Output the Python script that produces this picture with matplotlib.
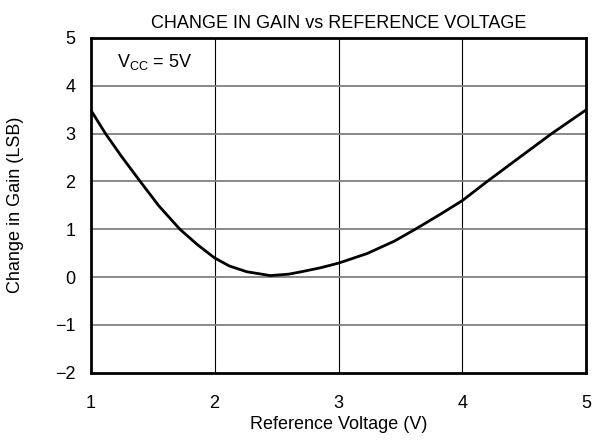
import matplotlib.pyplot as plt

plt.rcParams['font.family'] = ['Liberation Sans', 'DejaVu Sans']

# values
ref_voltage = [1.0, 1.12, 1.25, 1.4, 1.55, 1.72, 1.86, 2.0, 2.12, 2.26, 2.45,
               2.6, 2.7, 2.85, 3.0, 3.23, 3.45, 3.62, 3.82, 4.0, 4.14, 4.2,
               4.47, 4.72, 5.0]
gain_change = [3.5, 3.0, 2.52, 2.0, 1.49, 1.0, 0.68, 0.4, 0.23, 0.11, 0.03,
               0.06, 0.11, 0.19, 0.29, 0.49, 0.75, 1.0, 1.31, 1.6, 1.88, 2.0,
               2.52, 3.0, 3.5]

x_ticks = [1, 2, 3, 4, 5]
y_ticks = [-2, -1, 0, 1, 2, 3, 4, 5]

fig = plt.figure(figsize=(5.92, 4.41), dpi=100)
ax = fig.add_axes([0.153, 0.155, 0.8376, 0.759])

ax.plot(ref_voltage, gain_change, color='black', lw=2, solid_capstyle='round')

for x in x_ticks[1:-1]:
    ax.axvline(x, color='black', lw=0.8, zorder=0)
for y in y_ticks[1:-1]:
    ax.axhline(y, color='#808080', lw=1.3, zorder=0)

ax.set_xlim(1, 5)
ax.set_ylim(-2, 5)
ax.set_xticks(x_ticks)
ax.set_yticks(y_ticks)
ax.tick_params(length=0, labelsize=13)
ax.tick_params(axis='x', pad=16)
ax.tick_params(axis='y', pad=11)
for s in ax.spines.values():
    s.set_linewidth(2)

ax.text(1.52, 4.5, r'V$_\mathregular{CC}$ = 5V', ha='center', va='center', fontsize=13)

ax.set_title('CHANGE IN GAIN vs REFERENCE VOLTAGE', fontsize=13, pad=7)
ax.set_xlabel('Reference Voltage (V)', fontsize=13, labelpad=3)
ax.set_ylabel('Change in Gain (LSB)', fontsize=13, labelpad=22)

fig.savefig('out.png', dpi=100)
